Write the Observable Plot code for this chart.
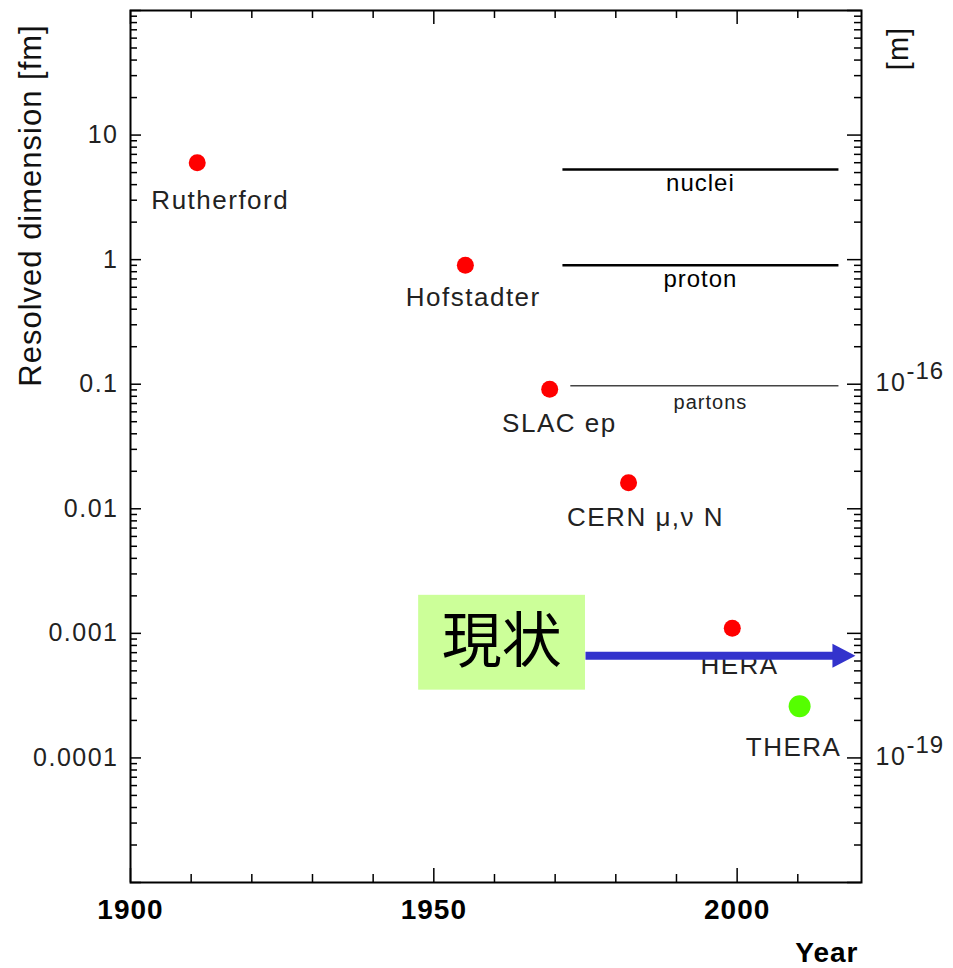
<!DOCTYPE html>
<html><head><meta charset="utf-8">
<script src="https://cdn.jsdelivr.net/npm/d3@7"></script>
<script src="https://cdn.jsdelivr.net/npm/@observablehq/plot@0.6"></script>
<style>
body{margin:0;background:#fff}
#chart svg{display:block}
#chart svg text{letter-spacing:1px}
#chart svg g[font-size="26"] text{letter-spacing:1.5px}
#chart svg g[font-size="25"] text{letter-spacing:1.5px}
#chart svg g[font-size="24"] text{letter-spacing:1px}
#chart svg g[font-family*="CJK"] text{letter-spacing:0}
</style>
</head><body><div id="chart"></div>
<script>
// Experiments (points)
const experiments = ["Rutherford", "Hofstadter", "SLAC ep", "CERN μ,ν N", "HERA", "THERA"];
const years = [1911.0, 1955.2, 1969.1, 1982.1, 1999.2, 2010.3];
const resolution = [6.0, 0.9, 0.091, 0.0162, 0.0011, 0.00026];
const pointColors = ["#ff0000", "#ff0000", "#ff0000", "#ff0000", "#ff0000", "#55ff00"];
const pointRadius = [8.5, 8.5, 8.5, 8.5, 8.5, 11];
// label anchor positions in data space
const labelYears = [1914.8, 1956.5, 1970.7, 1984.9, 2000.4, 2009.3];
const labelValues = [3.0, 0.495, 0.0478, 0.00847, 0.000553, 0.00012];

// Size scales (horizontal lines)
const scaleNames = ["nuclei", "proton", "partons"];
const scaleSizes = [5.3, 0.9, 0.097];
const scaleFrom = [1971.2, 1971.2, 1972.5];
const scaleTo = [2016.7, 2016.7, 2016.7];

// "Current status" annotation
const nowLabel = ["現状"];
const nowBoxYears = [1947.5, 1975.0];
const nowBoxValues = [0.00035, 0.00202];
const nowTextYear = [1961.2];
const nowTextValue = [0.000847];
const arrowYears = [1975.0, 2016.5, 2019.5]; // start, line end, tip
const arrowValue = [0.00066];

// Axis ticks / labels
const yTickValues = [10, 1, 0.1, 0.01, 0.001, 0.0001];
const xTickLabels = [1900, 1950, 2000];
const xMajorTicks = [1900, 1950, 2000];
const xMinorTicks = [1910, 1920, 1930, 1940, 1960, 1970, 1980, 1990, 2010];
const meterTickValues = [0.1, 0.0001];
const meterExponents = ["-16", "-19"];
const decades = [1e-5, 1e-4, 1e-3, 1e-2, 1e-1, 1, 10, 100];
const minorMultipliers = [2, 3, 4, 5, 6, 7, 8, 9];

const W = 953, H = 968, mL = 130, mR = 92, mT = 10, mB = 86;
const innerW = W - mL - mR, innerH = H - mT - mB;

const yMinor = decades.slice(0, -1).flatMap(d => minorMultipliers.map(m => m * d));

const points = experiments.map((name, i) => ({
  name, year: years[i], size: resolution[i], color: pointColors[i], r: pointRadius[i],
  ly: labelYears[i], lv: labelValues[i]
}));
const scalesT = scaleNames.map((name, i) => ({name, size: scaleSizes[i], from: scaleFrom[i], to: scaleTo[i]}));

const headSymbol = {
  draw(ctx) { ctx.moveTo(0, 0); ctx.lineTo(-23, -12); ctx.lineTo(-23, 12); ctx.closePath(); }
};

const font = "'Liberation Sans', Arial, Helvetica, sans-serif";

const chart = Plot.plot({
  width: W, height: H,
  marginLeft: mL, marginRight: mR, marginTop: mT, marginBottom: mB,
  style: {fontFamily: font, background: "#fff", color: "#000", overflow: "visible"},
  x: {domain: [1900, 2020.5], axis: null},
  y: {type: "log", domain: [1e-5, 100], axis: null},
  r: {type: "identity"},
  color: {type: "identity"},
  marks: [
    // left ticks
    Plot.ruleY(decades, {y: d => d, insetRight: innerW - 11, stroke: "#000", strokeWidth: 1.5}),
    Plot.ruleY(yMinor, {y: d => d, insetRight: innerW - 7, stroke: "#000", strokeWidth: 1.5}),
    // right ticks
    Plot.ruleY(decades, {y: d => d, insetLeft: innerW - 14, stroke: "#000", strokeWidth: 1.5}),
    Plot.ruleY(yMinor, {y: d => d, insetLeft: innerW - 7, stroke: "#000", strokeWidth: 1.5}),
    // bottom / top ticks
    Plot.ruleX(xMajorTicks, {x: d => d, insetTop: innerH - 14, stroke: "#000", strokeWidth: 1.5}),
    Plot.ruleX(xMinorTicks, {x: d => d, insetTop: innerH - 8, stroke: "#000", strokeWidth: 1.5}),
    Plot.ruleX(xMajorTicks, {x: d => d, insetBottom: innerH - 14, stroke: "#000", strokeWidth: 1.5}),
    Plot.ruleX(xMinorTicks, {x: d => d, insetBottom: innerH - 8, stroke: "#000", strokeWidth: 1.5}),
    Plot.frame({stroke: "#000", strokeWidth: 2}),

    // left tick labels
    Plot.text(yTickValues, {y: d => d, text: d => String(d), frameAnchor: "left", dx: -12, textAnchor: "end", lineAnchor: "middle", fontSize: 25, fill: "#222"}),
    // right tick labels
    Plot.text(meterTickValues, {y: d => d, text: () => "10", frameAnchor: "right", dx: 14, dy: -1, textAnchor: "start", lineAnchor: "middle", fontSize: 25, fill: "#222"}),
    Plot.text(meterTickValues, {y: d => d, text: (d, i) => meterExponents[i], frameAnchor: "right", dx: 45, dy: -13, textAnchor: "start", lineAnchor: "middle", fontSize: 24, fill: "#222"}),
    // x tick labels
    Plot.text(xTickLabels, {x: d => d, text: d => String(d), frameAnchor: "bottom", dy: 28, textAnchor: "middle", lineAnchor: "middle", fontSize: 28, fontWeight: "bold", fill: "#000"}),
    // axis titles
    Plot.text(["Year"], {frameAnchor: "bottom-right", dx: -3, dy: 71, textAnchor: "end", lineAnchor: "middle", fontSize: 28, fontWeight: "bold", fill: "#000"}),
    Plot.text(["Resolved dimension [fm]"], {frameAnchor: "top-left", dx: -99, dy: 195, rotate: -90, textAnchor: "middle", lineAnchor: "middle", fontSize: 31, fill: "#111"}),
    Plot.text(["[m]"], {frameAnchor: "top-right", dx: 37, dy: 38, rotate: -90, textAnchor: "middle", lineAnchor: "middle", fontSize: 29, fill: "#111"}),

    // scale lines
    Plot.link(scalesT.slice(0, 2), {x1: "from", x2: "to", y1: "size", y2: "size", stroke: "#000", strokeWidth: 2.5}),
    Plot.link(scalesT.slice(2), {x1: "from", x2: "to", y1: "size", y2: "size", stroke: "#444", strokeWidth: 1.5}),
    Plot.text(scalesT.slice(0, 2), {x: d => (d.from + d.to) / 2, y: "size", text: "name", dy: 14, fontSize: 24, fill: "#000"}),
    Plot.text(scalesT.slice(2), {x: d => (d.from + d.to) / 2 + 1, y: "size", text: "name", dy: 17, fontSize: 20, fill: "#222"}),

    // experiment labels and points
    Plot.text(points, {x: "ly", y: "lv", text: "name", fontSize: 26, fill: "#222"}),
    Plot.dot(points, {x: "year", y: "size", r: "r", fill: "color", stroke: null}),

    // current status annotation
    Plot.rect([0], {x1: () => nowBoxYears[0], x2: () => nowBoxYears[1], y1: () => nowBoxValues[0], y2: () => nowBoxValues[1], fill: "#ccff99"}),
    Plot.text(nowLabel, {x: () => nowTextYear[0], y: () => nowTextValue[0], text: d => d, fontSize: 60, fontFamily: "'Noto Sans CJK JP', 'Noto Sans CJK SC', sans-serif", fill: "#000"}),
    Plot.link([0], {x1: () => arrowYears[0], x2: () => arrowYears[1], y1: () => arrowValue[0], y2: () => arrowValue[0], stroke: "#3333cc", strokeWidth: 8}),
    Plot.dot([0], {x: () => arrowYears[2], y: () => arrowValue[0], symbol: headSymbol, r: 10, fill: "#3333cc", stroke: null})
  ]
});

document.getElementById("chart").appendChild(chart);
</script>
</body></html>
